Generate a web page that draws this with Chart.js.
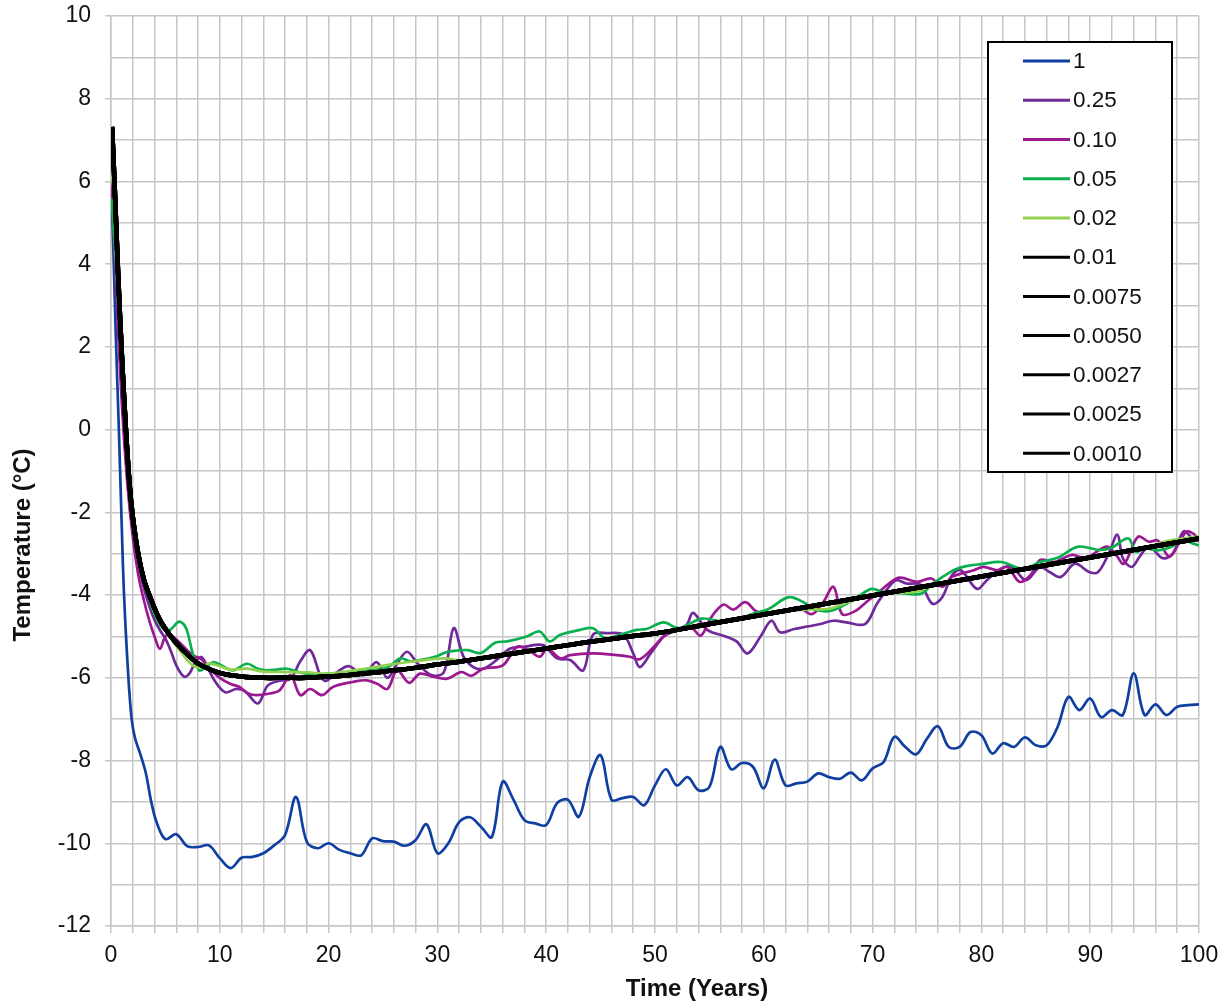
<!DOCTYPE html>
<html>
<head>
<meta charset="utf-8">
<title>Temperature over time by time step</title>
<script src="https://cdn.jsdelivr.net/npm/chart.js@4.4.1/dist/chart.umd.min.js"></script>
<style>
  html, body { margin: 0; padding: 0; background: #fff; }
  #wrap { width: 1228px; height: 1005px; }
</style>
</head>
<body>
<div id="wrap"><canvas id="chart" width="1228" height="1005"></canvas></div>
<script>
// Temperature (°C) against time (years) for several time steps.
// Each series is a list of [year, temperature] pairs.

const stepLabels = ["1", "0.25", "0.10", "0.05", "0.02", "0.01", "0.0075", "0.0050", "0.0027", "0.0025", "0.0010"];
const stepColors = ["#0f3fa0", "#6f2a9a", "#9c1890", "#0bb04e", "#92d050", "#000", "#000", "#000", "#000", "#000", "#000"];
const xTitle = "Time (Years)";
const yTitle = "Temperature (°C)";

const step1 = [
  [0, 6.2], [0.2, 4.5], [0.45, 2.2], [0.7, 0.2], [0.95, -2.0], [1.2, -4.0], [1.6, -6.0], [1.9, -7.0], [2.2, -7.45],
  [2.7, -7.85], [3.2, -8.3], [3.7, -9.0], [4.2, -9.5], [5, -9.9], [6, -9.78], [7, -10.07], [8, -10.09], [9, -10.05],
  [10, -10.36], [11, -10.6], [12, -10.35], [13, -10.33], [14, -10.24], [15, -10.05], [16, -9.8], [17, -8.88],
  [18, -9.97], [19, -10.12], [20, -10.0], [21, -10.16], [22, -10.24], [23, -10.29], [24, -9.88], [25, -9.95],
  [26, -9.96], [27, -10.06], [28, -9.92], [29, -9.54], [30, -10.24], [31, -10.0], [32, -9.49], [33, -9.37],
  [34, -9.6], [35, -9.85], [36, -8.51], [37, -8.95], [38, -9.44], [39, -9.52], [40, -9.56], [41, -9.03],
  [42, -8.95], [43, -9.36], [44, -8.4], [45, -7.87], [46, -8.95], [47, -8.91], [48, -8.88], [49, -9.08],
  [50, -8.6], [51, -8.21], [52, -8.6], [53, -8.4], [54, -8.72], [55, -8.64], [56, -7.67], [57, -8.21],
  [58, -8.06], [59, -8.15], [60, -8.67], [61, -7.98], [62, -8.6], [63, -8.55], [64, -8.51], [65, -8.31],
  [66, -8.4], [67, -8.44], [68, -8.29], [69, -8.48], [70, -8.19], [71, -8.04], [72, -7.43], [73, -7.67],
  [74, -7.85], [75, -7.47], [76, -7.17], [77, -7.67], [78, -7.67], [79, -7.31], [80, -7.39], [81, -7.83],
  [82, -7.58], [83, -7.67], [84, -7.44], [85, -7.63], [86, -7.63], [87, -7.19], [88, -6.46], [89, -6.78],
  [90, -6.5], [91, -6.95], [92, -6.78], [93, -6.9], [94, -5.89], [95, -6.9], [96, -6.64], [97, -6.9],
  [98, -6.7], [99, -6.66], [100, -6.64]
];

const step025 = [
  [0.05, 6.0], [0.5, 3.6], [1.0, 1.0], [1.5, -0.9], [2.0, -2.3], [2.5, -3.2], [3.0, -3.8], [3.5, -4.25], [4.0, -4.6],
  [4.5, -4.85], [5.0, -5.05], [5.5, -5.35], [6.0, -5.7], [6.7, -5.97], [7.2, -5.9], [7.8, -5.6], [8.3, -5.5],
  [8.8, -5.7], [9.5, -6.06], [10.5, -6.35], [11.5, -6.27], [12.3, -6.32], [13.5, -6.62], [14.4, -6.19],
  [15.5, -6.07], [16.5, -6.02], [17.4, -5.6], [18.3, -5.33], [19.3, -5.98], [19.8, -6.07], [21, -5.82],
  [21.9, -5.72], [23.2, -5.94], [24.4, -5.62], [25.4, -6.0], [26.2, -5.7], [27.2, -5.37], [28.2, -5.66],
  [29.5, -5.94], [30.6, -5.86], [31.5, -4.8], [32.4, -5.49], [33.3, -5.74], [34.2, -5.78], [35.4, -5.58],
  [36.7, -5.29], [38, -5.25], [39.7, -5.21], [41, -5.53], [42.2, -5.57], [43.4, -5.82], [44.3, -4.96],
  [45.6, -4.92], [47.1, -4.96], [48, -5.41], [48.6, -5.74], [49.6, -5.41], [50.8, -5.0], [51.7, -4.88],
  [52.9, -4.72], [53.5, -4.43], [54.8, -4.84], [56.5, -5.0], [57.5, -5.12], [58.5, -5.41], [59.7, -5.0],
  [60.7, -4.62], [61.5, -4.9], [62.8, -4.82], [64, -4.76], [65.2, -4.7], [66.4, -4.62], [67.6, -4.66],
  [69.3, -4.7], [70.4, -4.21], [71.5, -3.8], [72.2, -3.64], [73.1, -3.72], [74.4, -3.75], [75.5, -4.21],
  [76.4, -4.05], [77.3, -3.52], [78.1, -3.4], [79.6, -3.85], [80.5, -3.64], [81.8, -3.36], [82.8, -3.32],
  [84.1, -3.64], [85.4, -3.32], [86.3, -3.45], [87.3, -3.56], [88.6, -3.24], [89.9, -3.44], [90.7, -3.45],
  [91.7, -3.0], [92.5, -2.54], [93, -3.11], [93.8, -3.32], [94.6, -3.05], [95.4, -2.83], [96.7, -3.11],
  [97.6, -2.99], [98.6, -2.46], [99.4, -2.63], [100, -2.7]
];

const step010 = [
  [0.05, 5.9], [0.5, 3.3], [1.0, 0.6], [1.5, -1.3], [2.0, -2.6], [2.5, -3.5], [3.0, -4.1], [3.5, -4.6], [4.0, -5.0],
  [4.5, -5.3], [5.0, -5.0], [5.5, -4.97], [6.5, -5.2], [7.5, -5.45], [8.3, -5.55], [9, -5.75], [10, -6.0],
  [11, -6.15], [11.8, -6.22], [12.6, -6.38], [13.4, -6.42], [14.6, -6.38], [15.5, -6.3], [16.5, -5.94],
  [17.4, -6.42], [18.3, -6.27], [19.4, -6.42], [20.4, -6.22], [22.2, -6.1], [23.5, -6.06], [24.5, -6.15],
  [25.4, -6.27], [26.3, -5.82], [27.4, -6.12], [28.4, -5.9], [29.7, -5.98], [30.9, -6.02], [32.2, -5.86],
  [33.1, -5.95], [34.2, -5.78], [36, -5.7], [37.3, -5.25], [38.2, -5.3], [39.4, -5.49], [40.1, -5.29],
  [41.3, -5.53], [42.2, -5.45], [44.3, -5.41], [46.5, -5.45], [47.7, -5.49], [48.6, -5.55], [49.9, -5.25],
  [50.8, -5.0], [52, -4.84], [53.2, -4.75], [54.2, -4.98], [55.1, -4.56], [56.3, -4.23], [57.2, -4.35],
  [58.3, -4.17], [59.3, -4.39], [60.5, -4.45], [61.8, -4.41], [63.1, -4.29], [64.4, -4.46], [65.4, -4.2],
  [66.4, -3.8], [67.2, -4.46], [68.3, -4.4], [69.6, -4.13], [70.5, -3.95], [71.5, -3.72], [72.5, -3.58],
  [74.1, -3.68], [75.4, -3.6], [76.4, -3.8], [77.3, -3.56], [79.3, -3.4], [80.2, -3.32], [81.5, -3.4],
  [82.4, -3.32], [83.5, -3.68], [84.5, -3.52], [85.4, -3.15], [86.7, -3.2], [88.3, -3.03], [89.6, -3.1],
  [91.5, -2.83], [92.3, -3.0], [93.1, -3.24], [94.4, -2.59], [95.4, -2.71], [96.2, -2.68], [97.3, -3.07],
  [98.3, -2.67], [98.9, -2.46], [99.5, -2.52], [100, -2.65]
];

const step005 = [
  [0.05, 5.6], [0.5, 3.8], [1.0, 1.5], [1.5, -0.3], [2.0, -1.9], [2.5, -2.9], [3.0, -3.6], [3.5, -4.05], [4.0, -4.45],
  [4.6, -4.75], [5.2, -4.88], [5.6, -4.8], [6.3, -4.64], [6.9, -4.8], [7.5, -5.4], [8.1, -5.82], [8.7, -5.75],
  [9.4, -5.62], [10.3, -5.72], [11.2, -5.82], [12.5, -5.66], [13.5, -5.78], [14.3, -5.82], [15.2, -5.8],
  [16.2, -5.78], [17.4, -5.87], [18.5, -5.92], [20, -5.9], [22, -5.85], [23.5, -5.82], [25.4, -5.75],
  [26.6, -5.53], [27.5, -5.6], [28.4, -5.57], [29.7, -5.5], [30.8, -5.38], [31.8, -5.34], [32.8, -5.33],
  [34, -5.4], [35.3, -5.15], [36.4, -5.12], [38.2, -5.0], [39.4, -4.88], [40.3, -5.12], [41.3, -4.96],
  [43.1, -4.84], [44.3, -4.8], [45.4, -5.04], [46.8, -4.96], [48.3, -4.84], [49.2, -4.82], [50.8, -4.66],
  [52.2, -4.8], [54.3, -4.57], [56.2, -4.64], [57.5, -4.6], [58.8, -4.47], [60.4, -4.34], [62.3, -4.05],
  [63.7, -4.18], [64.6, -4.35], [66.3, -4.37], [68.6, -4.05], [69.9, -3.85], [70.9, -3.92], [72.5, -3.95],
  [74.4, -3.97], [75.4, -3.76], [76.5, -3.55], [77.6, -3.38], [78.6, -3.3], [80, -3.25], [81.8, -3.2],
  [83.8, -3.36], [85.4, -3.2], [87, -3.1], [88.9, -2.83], [90.9, -2.91], [92, -2.85], [93.5, -2.63],
  [94.2, -2.95], [95.1, -2.87], [96.2, -2.92], [97.3, -2.85], [98.6, -2.67], [99.4, -2.75], [100, -2.8]
];

const step002 = [
  [0.05, 6.2], [0.35, 5.5], [0.65, 3.7], [1.0, 1.7], [1.35, 0.0], [1.7, -1.3], [2.0, -2.0], [2.5, -3.0],
  [3.0, -3.6], [3.6, -4.1], [4.5, -4.65], [5.5, -5.05], [6.5, -5.4], [7.5, -5.7], [8.3, -5.75], [9, -5.65],
  [10, -5.72], [11, -5.8], [12.5, -5.78], [14, -5.85], [16, -5.86], [18, -5.87], [20, -5.9], [22.4, -5.82],
  [24, -5.75], [25.6, -5.68], [27, -5.63], [28.9, -5.57], [30.8, -5.53], [32, -5.58], [34, -5.5], [36, -5.42],
  [38, -5.35], [40, -5.3], [42, -5.2], [44, -5.13], [46, -5.06], [48, -4.99], [50, -4.93], [52, -4.83],
  [55, -4.7], [58, -4.58], [60, -4.47], [62, -4.38], [64, -4.35], [66, -4.33], [68, -4.15], [70, -4.01],
  [72, -3.95], [74, -3.92], [75.5, -3.78], [78, -3.65], [80, -3.55], [85, -3.32], [90, -3.09], [95, -2.86],
  [97, -2.7], [100, -2.58]
];

// the finest steps (0.01 and below) give the same smooth curve
const fineSteps = [
  [0.1, 7.32], [0.35, 5.8], [0.65, 3.8], [1.0, 1.8], [1.35, 0.1], [1.7, -1.3], [2.0, -2.1], [2.5, -3.0],
  [3.0, -3.6], [3.6, -4.05], [4.5, -4.6], [5.5, -5.0], [6.5, -5.3], [8, -5.65], [10, -5.88], [12, -5.97],
  [14, -6.0], [16, -6.0], [18, -6.0], [20, -5.97], [22, -5.93], [24, -5.88], [26, -5.82], [28, -5.76],
  [30, -5.68], [32, -5.61], [34, -5.53], [36, -5.45], [38, -5.37], [40, -5.29], [42, -5.21], [44, -5.13],
  [46, -5.06], [48, -4.99], [50, -4.93], [55, -4.7], [60, -4.47], [65, -4.24], [70, -4.01], [75, -3.78],
  [80, -3.55], [85, -3.32], [90, -3.09], [95, -2.86], [100, -2.63]
];

const seriesData = [step1, step025, step010, step005, step002, fineSteps, fineSteps, fineSteps, fineSteps, fineSteps, fineSteps];

const FONT = "'Liberation Sans', Arial, sans-serif";
const GRID = "#c6c6c6";
const TEXT = "#111";

const datasets = seriesData.map((pts, i) => ({
  label: stepLabels[i],
  data: pts.map(([x, y]) => ({ x, y })),
  borderColor: stepColors[i],
  borderWidth: i >= 5 ? 4.5 : 2.7,
  pointRadius: 0,
  tension: 0.35,
  fill: false,
  order: seriesData.length - i // later series painted on top
}));

// boxed legend in the top-right corner of the plot
const boxLegend = {
  id: "boxLegend",
  afterDraw(chart) {
    const ctx = chart.ctx;
    const left = 988, top = 42, w = 184, h = 430;
    ctx.save();
    ctx.fillStyle = "#fff";
    ctx.fillRect(left, top, w, h);
    ctx.strokeStyle = "#000";
    ctx.lineWidth = 2;
    ctx.strokeRect(left, top, w, h);
    ctx.font = "22.5px " + FONT;
    ctx.textBaseline = "middle";
    ctx.textAlign = "left";
    chart.data.datasets.forEach((ds, i) => {
      const y = 61 + i * 39.23;
      ctx.strokeStyle = ds.borderColor;
      ctx.lineWidth = 3;
      ctx.beginPath();
      ctx.moveTo(1023, y);
      ctx.lineTo(1070, y);
      ctx.stroke();
      ctx.fillStyle = TEXT;
      ctx.fillText(ds.label, 1073, y + 1);
    });
    ctx.restore();
  }
};

// axis titles sit off-centre, so they are placed by hand
const axisTitles = {
  id: "axisTitles",
  afterDraw(chart) {
    const ctx = chart.ctx;
    ctx.save();
    ctx.font = "bold 24px " + FONT;
    ctx.fillStyle = TEXT;
    ctx.textAlign = "center";
    ctx.textBaseline = "middle";
    ctx.fillText(xTitle, 697, 989);
    ctx.translate(23, 545);
    ctx.rotate(-Math.PI / 2);
    ctx.fillText(yTitle, 0, 0);
    ctx.restore();
  }
};

new Chart(document.getElementById("chart"), {
  type: "line",
  data: { datasets },
  plugins: [boxLegend, axisTitles],
  options: {
    responsive: false,
    animation: false,
    devicePixelRatio: 1,
    layout: { padding: { top: 16, right: 29, bottom: 0, left: 0 } },
    plugins: { legend: { display: false }, tooltip: { enabled: false } },
    scales: {
      x: {
        type: "linear",
        min: 0,
        max: 100,
        afterFit: (s) => { s.height = 79; },
        ticks: {
          stepSize: 2,
          autoSkip: false,
          maxRotation: 0,
          padding: 9,
          color: TEXT,
          font: { family: FONT, size: 23 },
          callback: (v) => (v % 10 === 0 ? v : "")
        },
        grid: { color: GRID, lineWidth: 1.5, tickLength: 7, tickColor: GRID },
        border: { color: GRID, width: 1.5 }
      },
      y: {
        min: -12,
        max: 10,
        afterFit: (s) => { s.width = 111; s.paddingTop = 0; s.paddingBottom = 0; },
        ticks: {
          stepSize: 1,
          padding: 14,
          color: TEXT,
          font: { family: FONT, size: 23 },
          callback: (v) => (v % 2 === 0 ? v : "")
        },
        grid: {
          color: GRID,
          lineWidth: 1.5,
          tickLength: 6,
          tickColor: (c) => (c.tick && c.tick.value % 2 === 0 ? GRID : "rgba(0,0,0,0)")
        },
        border: { color: GRID, width: 1.5 }
      }
    }
  }
});
</script>
</body>
</html>
